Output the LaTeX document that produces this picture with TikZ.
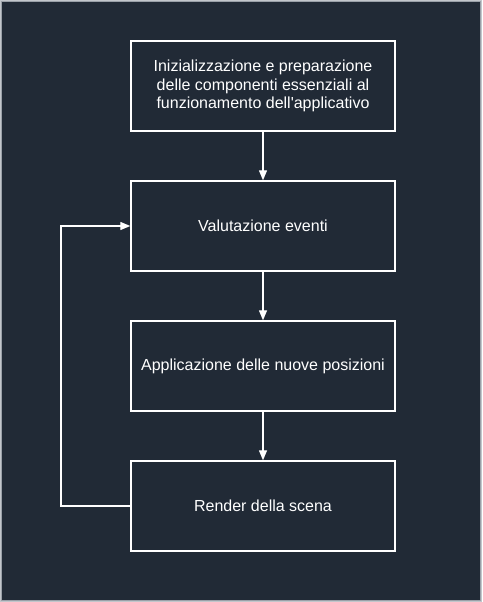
\documentclass[tikz,border=0pt]{standalone}
\usepackage{fontspec}
\setmainfont{Liberation Sans}
\usetikzlibrary{arrows.meta}
\definecolor{bgc}{HTML}{212A36}
\definecolor{framec}{HTML}{9AA0A8}
\tikzset{
  stepbox/.style={draw=white, line width=1.4pt, minimum width=264pt, minimum height=90pt, inner sep=0pt, text=white, align=center, font=\fontsize{16}{18.5}\selectfont},
  conn/.style={draw=white, line width=1.3pt, -{Triangle[length=10pt,width=8pt]}}
}
\begin{document}
\begin{tikzpicture}[x=1pt,y=-1pt]
\useasboundingbox (0,0) rectangle (482,602);
\fill[framec!60!white] (0,0) rectangle (482,602);
\fill[bgc, draw=framec, line width=1.2pt] (1.5,1.5) rectangle (480.5,600.5);
\node[stepbox] (a) at (263,86) {Inizializzazione e preparazione\\delle componenti essenziali al\\funzionamento dell\textquotesingle applicativo};
\node[stepbox] (b) at (263,226) {Valutazione eventi};
\node[stepbox] (c) at (263,366) {Applicazione delle nuove posizioni};
\node[stepbox] (d) at (263,506) {Render della scena};
\draw[conn] (a) -- (b);
\draw[conn] (b) -- (c);
\draw[conn] (c) -- (d);
\coordinate (l1) at (61,506);
\coordinate (l2) at (61,226);
\draw[conn] (d.west) -- (l1) -- (l2) -- (b.west);
\end{tikzpicture}
\end{document}
